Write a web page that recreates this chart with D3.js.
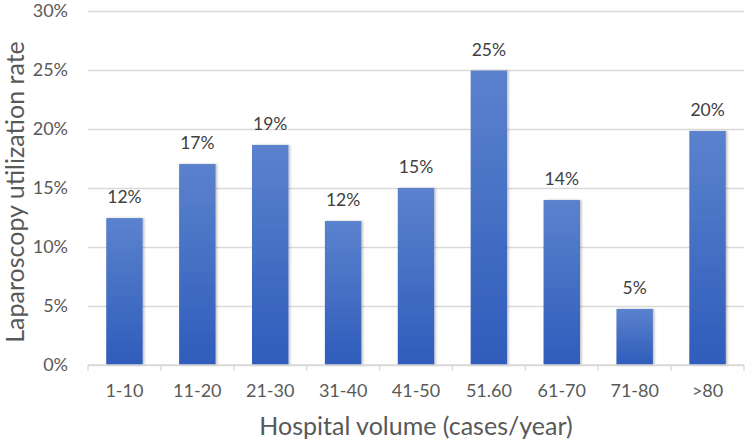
<!DOCTYPE html>
<html><head><meta charset="utf-8">
<script src="https://cdn.jsdelivr.net/npm/d3@7"></script>
<style>body{margin:0;background:#fff}svg{display:block}text{font-family:Lato,"Open Sans",sans-serif}</style>
</head><body>
<svg id="c" width="749" height="442"></svg>
<script>
const categories = ["1-10","11-20","21-30","31-40","41-50","51.60","61-70","71-80",">80"];
const values = [12.45, 17.03, 18.65, 12.2, 15.0, 24.95, 13.98, 4.75, 19.83];
const labels = ["12%","17%","19%","12%","15%","25%","14%","5%","20%"];
const yTicks = [0,5,10,15,20,25,30];

const svg = d3.select("#c");
const m = {l:88, r:744, t:11, b:365};
const x = d3.scaleBand().domain(categories).range([m.l, m.r]).paddingInner(0.5).paddingOuter(0.25);
const y = d3.scaleLinear().domain([0,30]).range([m.b, m.t]);

const defs = svg.append("defs");
const g = defs.append("linearGradient").attr("id","bg").attr("x1",0).attr("y1",0).attr("x2",0).attr("y2",1);
g.append("stop").attr("offset","0%").attr("stop-color","#5b82cd");
g.append("stop").attr("offset","100%").attr("stop-color","#2f5cbb");
const f = defs.append("filter").attr("id","sh").attr("x","-20%").attr("y","-5%").attr("width","150%").attr("height","115%");
f.append("feDropShadow").attr("dx",1.5).attr("dy",0).attr("stdDeviation",1.2).attr("flood-color","#000").attr("flood-opacity",0.25);

// gridlines
const ya = d3.axisLeft(y).tickValues(yTicks).tickSize(-(m.r-m.l)).tickFormat(d=>d+"%").tickPadding(20);
const yg = svg.append("g").attr("transform",`translate(${m.l},0)`).call(ya);
yg.select(".domain").remove();
yg.selectAll(".tick line").attr("stroke","#d9d9d9").attr("stroke-width",1.3);
yg.selectAll(".tick text").attr("fill","#595959").style("font-size","18px");

// bars
svg.append("g").selectAll("rect").data(values).join("rect")
  .attr("x",(d,i)=>x(categories[i])).attr("width",x.bandwidth())
  .attr("y",d=>y(d)).attr("height",d=>y(0)-y(d))
  .attr("fill","url(#bg)").attr("filter","url(#sh)");

// x axis
const step = x.step();
const xg = svg.append("g").attr("transform",`translate(0,${m.b})`);
xg.append("line").attr("x1",m.l).attr("x2",m.r).attr("stroke","#d9d9d9").attr("stroke-width",1.3);
xg.selectAll("line.tk").data(d3.range(categories.length+1)).join("line").attr("class","tk")
  .attr("x1",i=> i<categories.length ? x(categories[i])-(step-x.bandwidth())/2 : m.r)
  .attr("x2",i=> i<categories.length ? x(categories[i])-(step-x.bandwidth())/2 : m.r)
  .attr("y1",0).attr("y2",6).attr("stroke","#d9d9d9").attr("stroke-width",1.3);
xg.selectAll("text").data(categories).join("text")
  .attr("x",d=>x(d)+x.bandwidth()/2).attr("y",32).attr("text-anchor","middle")
  .attr("fill","#595959").style("font-size","18px").text(d=>d);

// value labels
svg.append("g").selectAll("text").data(values).join("text")
  .attr("x",(d,i)=>x(categories[i])+x.bandwidth()/2).attr("y",d=>y(d)-15)
  .attr("text-anchor","middle").attr("fill","#404040").style("font-size","17.5px")
  .text((d,i)=>labels[i]);

// axis titles
svg.append("text").attr("x",416).attr("y",435).attr("text-anchor","middle")
  .attr("fill","#595959").style("font-size","25px").text("Hospital volume (cases/year)");
svg.append("text").attr("transform",`translate(24,192) rotate(-90)`).attr("text-anchor","middle")
  .attr("fill","#595959").style("font-size","25px").text("Laparoscopy utilization rate");
</script>
</body></html>
